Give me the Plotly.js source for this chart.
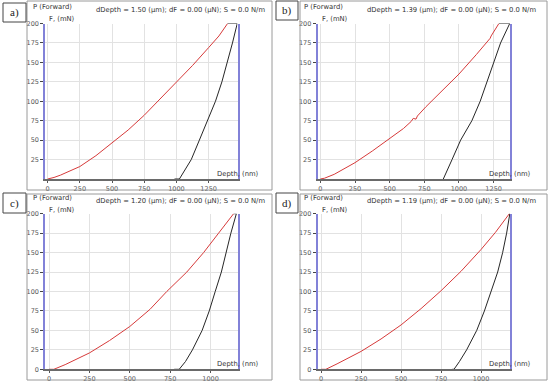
<!DOCTYPE html>
<html>
<head>
<meta charset="utf-8">
<script src="https://cdn.plot.ly/plotly-3.0.1.min.js"></script>
<style>html,body{margin:0;padding:0;background:#fff}#chart{width:550px;height:384px}</style>
</head>
<body>
<div id="chart"></div>
<script>
// ---- data (depth in nm, force in mN) ----
const panelLabels = ["a)", "b)", "c)", "d)"];
const headerTexts = [
  "dDepth = 1.50 (μm); dF = 0.00 (μN); S = 0.0 N/m",
  "dDepth = 1.39 (μm); dF = 0.00 (μN); S = 0.0 N/m",
  "dDepth = 1.20 (μm); dF = 0.00 (μN); S = 0.0 N/m",
  "dDepth = 1.19 (μm); dF = 0.00 (μN); S = 0.0 N/m"
];
const xTicksLong = [0, 250, 500, 750, 1000, 1250];
const xTicksShort = [0, 250, 500, 750, 1000];
const yTicksNoZero = [25, 50, 75, 100, 125, 150, 175, 200];
const yTicksWithZero = [0, 25, 50, 75, 100, 125, 150, 175, 200];

const aLoadDepth = [0, 50, 100, 175, 250, 375, 500, 625, 750, 875, 1000, 1125, 1250, 1330, 1397];
const aLoadForce = [0, 2, 5, 10, 16, 30, 46, 63, 82, 103, 124, 146, 169, 184, 200];
const aUnloadDepth = [1397, 1472, 1435, 1396, 1353, 1303, 1243, 1178, 1115, 1060, 1023, 985];
const aUnloadForce = [200, 200, 175, 150, 125, 100, 75, 50, 25, 10, 0, 0];

const bLoadDepth = [0, 30, 100, 250, 375, 500, 600, 655, 670, 690, 700, 762, 875, 1000, 1125, 1200, 1225, 1232, 1245, 1288];
const bLoadForce = [0, 1, 6, 21, 36, 52, 65, 74, 78, 77, 81, 93, 113, 135, 160, 176, 181, 184, 188, 200];
const bUnloadDepth = [1288, 1366, 1300, 1252, 1206, 1153, 1093, 1012, 950, 887];
const bUnloadForce = [200, 200, 175, 150, 125, 100, 75, 50, 25, 0];

const cLoadDepth = [0, 30, 100, 250, 375, 500, 625, 729, 853, 957, 1050, 1143];
const cLoadForce = [0, 0, 6, 21, 37, 55, 77, 100, 125, 150, 175, 200];
const cUnloadDepth = [1143, 1160, 1126, 1097, 1067, 1029, 992, 948, 888, 845, 806, 775];
const cUnloadForce = [200, 200, 175, 150, 125, 100, 75, 50, 25, 10, 0, 0];

const dLoadDepth = [0, 30, 100, 250, 375, 500, 625, 750, 875, 1000, 1090, 1177];
const dLoadForce = [0, 0, 7, 23, 39, 57, 78, 101, 126, 154, 176, 200];
const dUnloadDepth = [1177, 1180, 1160, 1135, 1104, 1063, 1021, 973, 910, 865, 831, 820];
const dUnloadForce = [200, 200, 175, 150, 125, 100, 75, 50, 25, 10, 0, 0];

const xRanges = [[-18, 1474], [-19, 1368], [-23, 1167], [-21, 1181]];

// ---- layout geometry (pixels) ----
const W = 550, H = 384;
const px = v => v / W, py = v => 1 - v / H;
const plotBoxes = [ // [left, right, top, bottom]
  [45.3, 237.5, 23.5, 179],
  [317.7, 510, 23.5, 179],
  [45.3, 237.5, 213.7, 369.3],
  [317.7, 510, 213.7, 369.3]
];
const frames = [[27, 272, 1, 190], [300, 547, 1, 190], [27, 272, 194, 380], [300, 547, 194, 380]];
const labelBoxes = [[3, 26, 3, 22], [276, 298, 1, 20], [3, 26, 193, 213], [276, 298, 193, 213]];

const loads = [[aLoadDepth, aLoadForce], [bLoadDepth, bLoadForce], [cLoadDepth, cLoadForce], [dLoadDepth, dLoadForce]];
const unloads = [[aUnloadDepth, aUnloadForce], [bUnloadDepth, bUnloadForce], [cUnloadDepth, cUnloadForce], [dUnloadDepth, dUnloadForce]];

const traces = [];
const layout = {
  width: W, height: H,
  margin: {l: 0, r: 0, t: 0, b: 0},
  paper_bgcolor: "#ffffff", plot_bgcolor: "#ffffff",
  showlegend: false,
  font: {family: "DejaVu Sans, sans-serif", size: 6.5, color: "#444"},
  shapes: [], annotations: []
};

const tickFont = {family: "DejaVu Sans, sans-serif", size: 6.5, color: "#555"};
const txtFont = {family: "DejaVu Sans, sans-serif", size: 6.8, color: "#333"};

for (let i = 0; i < 4; i++) {
  const n = i === 0 ? "" : String(i + 1);
  const xa = "x" + n, ya = "y" + n;
  traces.push({x: loads[i][0], y: loads[i][1], xaxis: xa, yaxis: ya, type: "scatter", mode: "lines",
    line: {color: "#d63a3a", width: 1}, hoverinfo: "skip"});
  traces.push({x: unloads[i][0], y: unloads[i][1], xaxis: xa, yaxis: ya, type: "scatter", mode: "lines",
    line: {color: "#262626", width: 1}, hoverinfo: "skip"});
  const b = plotBoxes[i];
  layout["xaxis" + n] = {
    domain: [px(b[0]), px(b[1])], anchor: ya, range: xRanges[i],
    tickvals: i < 2 ? xTicksLong : xTicksShort, ticktext: (i < 2 ? xTicksLong : xTicksShort).map(String),
    showgrid: true, gridcolor: "#e2e2e2", gridwidth: 1, zeroline: false,
    showline: true, linecolor: "#6a6a6a", linewidth: 2, mirror: false,
    ticks: "outside", ticklen: 2, tickcolor: "#555", tickfont: tickFont, fixedrange: true
  };
  layout["yaxis" + n] = {
    domain: [py(b[3]), py(b[2])], anchor: xa, range: [0, 200],
    tickvals: i < 2 ? yTicksNoZero : yTicksWithZero, ticktext: (i < 2 ? yTicksNoZero : yTicksWithZero).map(String),
    showgrid: true, gridcolor: "#e2e2e2", gridwidth: 1, zeroline: false,
    showline: true, linecolor: "#8282d8", linewidth: 2, mirror: true,
    ticks: "outside", ticklen: 3, tickcolor: "#444", tickfont: tickFont, fixedrange: true
  };
  const f = frames[i];
  layout.shapes.push({type: "rect", xref: "paper", yref: "paper", x0: px(f[0]), x1: px(f[1]), y0: py(f[3]), y1: py(f[2]),
    line: {color: "#9a9a9a", width: 1}});
  const lb = labelBoxes[i];
  layout.shapes.push({type: "rect", xref: "paper", yref: "paper", x0: px(lb[0]), x1: px(lb[1]), y0: py(lb[3]), y1: py(lb[2]),
    line: {color: "#444", width: 1}});
  layout.annotations.push({xref: "paper", yref: "paper", x: px((lb[0] + lb[1]) / 2), y: py((lb[2] + lb[3]) / 2),
    text: panelLabels[i], showarrow: false, xanchor: "center", yanchor: "middle",
    font: {family: "Liberation Serif, serif", size: 11, color: "#222"}});
  const left = i % 2 === 0 ? 31 : 302;
  const fx = i % 2 === 0 ? 47 : 320;
  const rx = i % 2 === 0 ? 267 : 538;
  const dx = i % 2 === 0 ? 261 : 533;
  const top = i < 2 ? 0 : 191;
  layout.annotations.push({xref: "paper", yref: "paper", x: px(left), y: py(top + 7), text: "P (Forward)",
    showarrow: false, xanchor: "left", yanchor: "middle", font: txtFont});
  layout.annotations.push({xref: "paper", yref: "paper", x: px(fx), y: py(top + 18.5), text: "F, (mN)",
    showarrow: false, xanchor: "left", yanchor: "middle", font: txtFont});
  layout.annotations.push({xref: "paper", yref: "paper", x: px(rx), y: py(top + 9.5), text: headerTexts[i],
    showarrow: false, xanchor: "right", yanchor: "middle", font: txtFont});
  layout.annotations.push({xref: "paper", yref: "paper", x: px(dx), y: py(b[3] - 5), text: "Depth, (nm)",
    showarrow: false, xanchor: "right", yanchor: "middle", font: txtFont});
}

Plotly.newPlot("chart", traces, layout, {staticPlot: true, displayModeBar: false});
</script>
</body>
</html>
